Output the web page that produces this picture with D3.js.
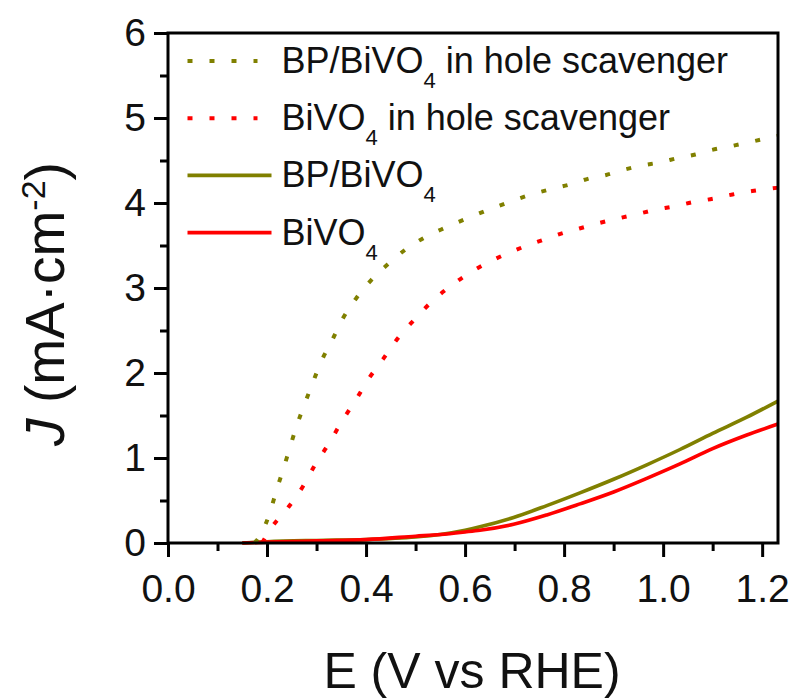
<!DOCTYPE html>
<meta charset="utf-8">
<script src="https://d3js.org/d3.v7.min.js"></script>
<div id="chart"></div>
<style>
  body { margin: 0; background: #fff; }
  text { font-family: "Liberation Sans", Arial, sans-serif; fill: #111; }
</style>
<script>

// series: [E (V vs RHE), J (mA/cm2)]
var bpScavenger = [[0.175,0],[0.189,0.12],[0.206,0.36],[0.219,0.62],[0.233,0.87],[0.246,1.12],[0.26,1.38],[0.275,1.62],
  [0.292,1.88],[0.309,2.13],[0.331,2.38],[0.352,2.63],[0.379,2.87],[0.41,3.09],[0.444,3.28],[0.479,3.45],[0.52,3.6],
  [0.56,3.71],[0.6,3.81],[0.656,3.94],[0.693,4.02],[0.728,4.09],[0.778,4.17],[0.813,4.22],[0.851,4.29],[0.885,4.33],
  [0.92,4.39],[0.956,4.44],[0.995,4.48],[1.03,4.53],[1.065,4.57],[1.095,4.62],[1.13,4.66],[1.17,4.71],[1.208,4.76],[1.232,4.79]];
var bvScavenger = [[0.19,0],[0.209,0.18],[0.243,0.42],[0.273,0.67],[0.298,0.93],[0.325,1.17],[0.351,1.43],[0.379,1.68],
  [0.405,1.93],[0.434,2.16],[0.463,2.40],[0.498,2.63],[0.531,2.83],[0.57,3.02],[0.61,3.18],[0.65,3.31],[0.691,3.42],
  [0.73,3.51],[0.755,3.56],[0.794,3.64],[0.831,3.70],[0.868,3.76],[0.91,3.82],[0.948,3.87],[0.984,3.92],[1.022,3.96],
  [1.06,4.01],[1.1,4.05],[1.14,4.10],[1.18,4.14],[1.218,4.17],[1.232,4.18]];
var bpDark = [[0.15,0],[0.2,0.015],[0.3,0.03],[0.4,0.04],[0.5,0.07],[0.55,0.1],[0.6,0.15],[0.63,0.19],[0.698,0.30],
  [0.765,0.44],[0.832,0.59],[0.9,0.75],[0.967,0.92],[1.034,1.10],[1.1,1.29],[1.169,1.48],[1.232,1.67]];
var bvDark = [[0.15,0],[0.2,0.01],[0.3,0.025],[0.4,0.04],[0.5,0.08],[0.55,0.1],[0.6,0.13],[0.63,0.15],[0.698,0.22],
  [0.765,0.33],[0.832,0.46],[0.9,0.60],[0.967,0.76],[1.034,0.93],[1.1,1.11],[1.169,1.27],[1.232,1.40]];

var xTicks = [0, 0.2, 0.4, 0.6, 0.8, 1.0, 1.2];
var yTicks = [0, 1, 2, 3, 4, 5, 6];

var series = [
  {name: "BP/BiVO", rest: " in hole scavenger", data: bpScavenger, color: "#808000", dotted: true},
  {name: "BiVO", rest: " in hole scavenger", data: bvScavenger, color: "#ff0000", dotted: true},
  {name: "BP/BiVO", rest: "", data: bpDark, color: "#808000", dotted: false},
  {name: "BiVO", rest: "", data: bvDark, color: "#ff0000", dotted: false}
];

var margin = {top: 33, right: 18, bottom: 157, left: 168},
    W = 796, H = 700,
    width = W - margin.left - margin.right,
    height = H - margin.top - margin.bottom;

var svg = d3.select("#chart").append("svg")
    .attr("width", W).attr("height", H)
  .append("g")
    .attr("transform", "translate(" + margin.left + "," + margin.top + ")");

var x = d3.scaleLinear().domain([0, 1.232]).range([0, width]);
var y = d3.scaleLinear().domain([0, 6]).range([height, 0]);

// curves
var line = d3.line()
  .x(function(d) { return x(d[0]); })
  .y(function(d) { return y(d[1]); })
  .curve(d3.curveMonotoneX);

// solid first, dotted on top; red over olive
[2, 3, 0, 1].forEach(function(i) {
  var s = series[i];
  svg.append("path")
    .datum(s.data)
    .attr("fill", "none")
    .attr("stroke", s.color)
    .attr("stroke-width", s.dotted ? 4 : 3.6)
    .attr("stroke-dasharray", s.dotted ? "5,17" : null)
    .attr("d", line);
});

// axes with minor ticks
var fmt = d3.format(".1f");
var xMinor = d3.range(0.1, 1.21, 0.2);
var yMinor = d3.range(0.5, 6, 1);

svg.append("g")
  .attr("transform", "translate(0," + height + ")")
  .call(d3.axisBottom(x).tickValues(xMinor).tickSize(8).tickFormat(""));
svg.append("g")
  .call(d3.axisLeft(y).tickValues(yMinor).tickSize(8).tickFormat(""));

var xAxis = svg.append("g")
  .attr("transform", "translate(0," + height + ")")
  .call(d3.axisBottom(x).tickValues(xTicks).tickSize(14).tickPadding(9).tickFormat(fmt));
var yAxis = svg.append("g")
  .call(d3.axisLeft(y).tickValues(yTicks).tickSize(14).tickPadding(8).tickFormat(d3.format("d")));

svg.selectAll(".tick line").attr("stroke", "#000").attr("stroke-width", 3);
svg.selectAll(".domain").remove();
svg.selectAll(".tick text").style("font-size", "39px").attr("fill", "#111");
xAxis.selectAll(".tick text").attr("dy", "0.93em");

// frame
svg.append("rect")
  .attr("width", width).attr("height", height)
  .attr("fill", "none").attr("stroke", "#000").attr("stroke-width", 3);

// axis titles
svg.append("text")
  .attr("x", x(0.614)).attr("y", height + 145)
  .attr("text-anchor", "middle")
  .style("font-size", "50px")
  .text("E (V vs RHE)");

var yt = svg.append("text")
  .attr("transform", "translate(" + (64 - margin.left) + "," + (304 - margin.top) + ")rotate(-90)")
  .attr("text-anchor", "middle")
  .style("font-size", "55px");
yt.append("tspan").style("font-style", "italic").text("J");
yt.append("tspan").text(" (mA\u00B7cm");
yt.append("tspan").attr("baseline-shift", "super").style("font-size", "34px").text("-2");
yt.append("tspan").text(")");

// legend
var legend = svg.append("g").attr("transform", "translate(" + (187.5 - margin.left) + "," + (61 - margin.top) + ")");
series.forEach(function(s, i) {
  var row = legend.append("g").attr("transform", "translate(0," + (i * 57.2) + ")");
  row.append("line")
    .attr("x1", 0).attr("x2", s.dotted ? 70 : 84)
    .attr("stroke", s.color)
    .attr("stroke-width", s.dotted ? 4 : 3.8)
    .attr("stroke-dasharray", s.dotted ? "5,17" : null);
  var t = row.append("text")
    .attr("x", 94).attr("y", 12)
    .style("font-size", "36px");
  t.append("tspan").text(s.name);
  t.append("tspan").attr("baseline-shift", "-15").style("font-size", "22px").text("4");
  t.append("tspan").text(s.rest);
});

</script>
